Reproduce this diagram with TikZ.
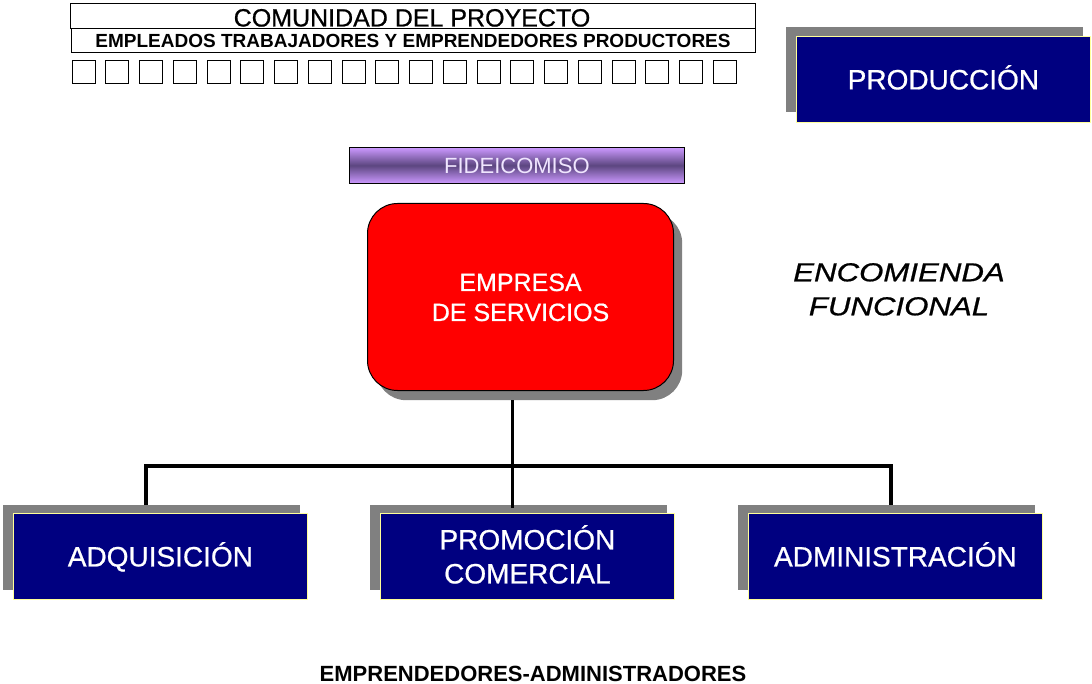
\documentclass[tikz,border=0pt]{standalone}
\usepackage{fontspec}
\setmainfont{Liberation Sans}
\newfontfamily\heavyfont{Liberation Sans}[FakeBold=0.7]
\usetikzlibrary{calc}
\definecolor{navy}{HTML}{000080}
\definecolor{shgray}{HTML}{808080}
\definecolor{lyellow}{HTML}{FFFF99}
\definecolor{lpurple}{HTML}{CC99FF}
\definecolor{dpurple}{HTML}{5C4680}
\definecolor{ltext}{HTML}{F0E6FF}
\begin{document}
\begin{tikzpicture}[x=1pt,y=-1pt,
  shbox/.style={fill=shgray, draw=none, minimum width=297pt, minimum height=85pt, inner sep=0pt, anchor=north west},
  bluebox/.style={fill=navy, draw=lyellow, line width=0.8pt, minimum width=294pt, minimum height=86pt, inner sep=0pt, anchor=north west, text=white, align=center, font=\heavyfont\fontsize{28}{34}\selectfont, text height=20pt, text depth=0pt},
  sq/.style={draw=black, line width=1pt, minimum width=23pt, minimum height=23pt, inner sep=0pt, anchor=north west},
  conn/.style={line width=3.5pt, black},
  thinbox/.style={draw=black, line width=0.8pt, inner sep=0pt, anchor=north west},
]
\useasboundingbox (0,0) rectangle (1092,684);

% top boxes
\node[thinbox, minimum width=685pt, minimum height=25pt] (tit) at (70,3) {};
\node[font=\heavyfont\fontsize{25}{25}\selectfont, anchor=base, inner sep=0pt] (titt) at (412,26.5) {COMUNIDAD DEL PROYECTO};
\node[thinbox, minimum width=684pt, minimum height=24pt] (emp2) at (71,28) {};
\node[font=\fontsize{19}{19}\selectfont\bfseries, anchor=base, inner sep=0pt] (emp2t) at (413,47.5) {EMPLEADOS TRABAJADORES Y EMPRENDEDORES PRODUCTORES};
\foreach \i in {0,...,19} \node[sq] (sq\i) at ({71.7+33.75*\i},60) {};

% produccion
\node[shbox] (prodsh) at (786,27) {};
\node[bluebox] (prod) at (796,36) {PRODUCCIÓN};

% fideicomiso
\node[draw=black, line width=0.8pt, top color=lpurple, bottom color=lpurple, middle color=dpurple, minimum width=335pt, minimum height=36pt, anchor=north west, inner sep=0pt, text=ltext, font=\fontsize{22}{22}\selectfont, text height=15.7pt, text depth=0pt] (fid) at (349,147) {FIDEICOMISO};

% empresa
\node[fill=shgray, rounded corners=30pt, minimum width=306pt, minimum height=187pt, anchor=north west, inner sep=0pt] (empsh) at (376,213) {};
\node[fill=red, draw=black, line width=1pt, rounded corners=30pt, minimum width=306pt, minimum height=187pt, anchor=north west, inner sep=0pt, text=white, align=center, font=\heavyfont\fontsize{25}{30}\selectfont, text height=48pt, text depth=0pt] (emp) at (367,203) {EMPRESA\\DE SERVICIOS};

% encomienda
\node[font=\heavyfont\fontsize{26}{34}\selectfont\itshape, align=center, inner sep=0pt, text height=52.6pt, text depth=0pt] (enc) at (899,289) {\scalebox{1.2}[1]{ENCOMIENDA}\\\scalebox{1.2}[1]{FUNCIONAL}};

% bottom boxes
\node[shbox] (adqsh) at (3,505) {};
\node[bluebox] (adq) at (13,513) {ADQUISICIÓN};
\node[shbox] (prosh) at (370,505) {};
\node[bluebox, text height=54pt] (pro) at (380,513) {PROMOCIÓN\\COMERCIAL};
\node[shbox] (admsh) at (738,505) {};
\node[bluebox] (adm) at (748,513) {ADMINISTRACIÓN};

% connectors
\coordinate (ja) at (146,466);
\coordinate (jb) at (512.5,466);
\coordinate (jc) at (891,466);
\draw[conn] (ja |- adqsh.north) -- (ja) -- (jc) -- (jc |- admsh.north);
\draw[conn] (jb |- empsh.south) -- ($(jb |- prosh.north)+(0,3)$);

% bottom label
\node[font=\fontsize{22}{22}\selectfont\bfseries, anchor=base, inner sep=0pt] (bot) at (533,681) {EMPRENDEDORES-ADMINISTRADORES};
\end{tikzpicture}
\end{document}
